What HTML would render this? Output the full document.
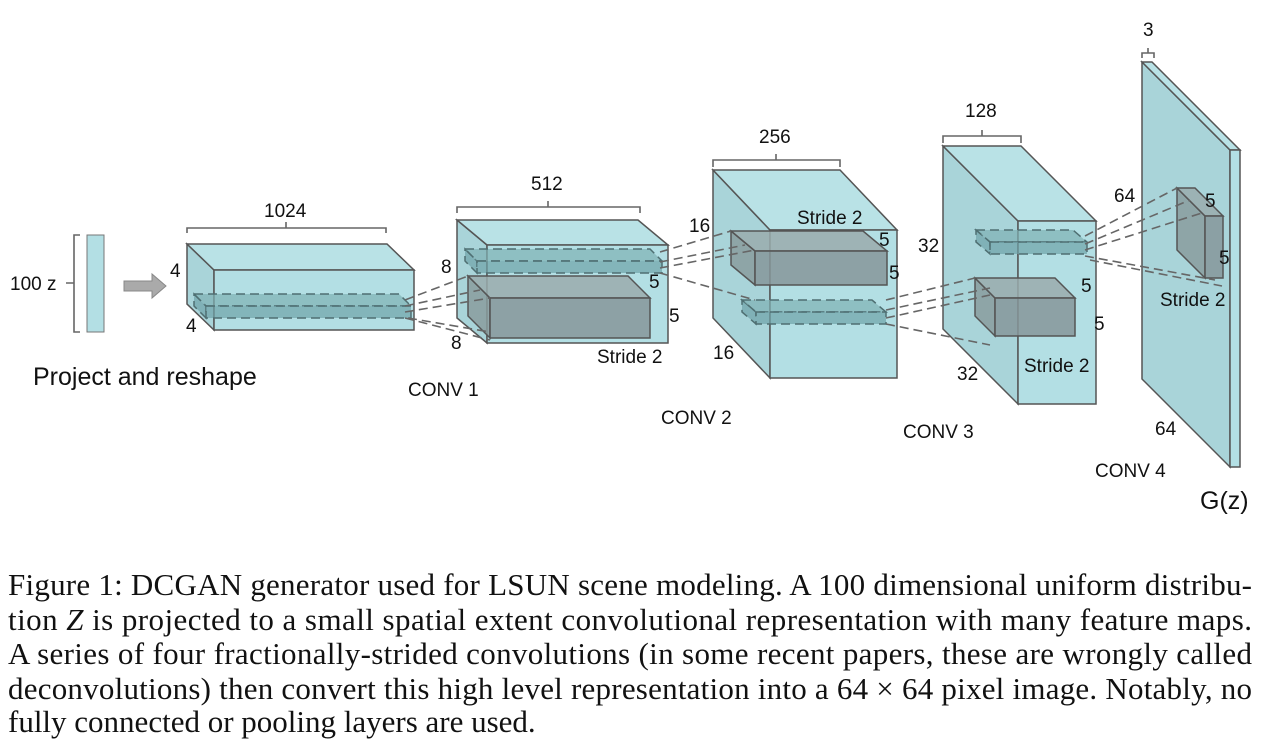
<!DOCTYPE html>
<html><head><meta charset="utf-8"><style>
html,body{margin:0;padding:0;background:#fff}
svg{display:block}
.l{font-family:"Liberation Sans",sans-serif;font-size:19px;fill:#111}
.c{font-family:"Liberation Serif",serif;font-size:31px;fill:#111}
</style></head><body>
<svg width="1262" height="743" viewBox="0 0 1262 743">
<g id="cubes"></g>
<g fill="none" stroke="#666" stroke-width="1.6">
<path d="M80,235 h-6 v97 h6 M74,283 h-8"/>
<path d="M187,233 v-5 h99 v-6 v6 h100 v5"/>
<path d="M457,213 v-6 h91 v-6 v6 h92 v6"/>
<path d="M713,167 v-7 h63 v-6 v6 h64 v7"/>
<path d="M943,143 v-7 h39 v-6 v6 h39 v7"/>
<path d="M1142,58 v-5 h6 v-5 v5 h6 v5"/>
</g>
<rect x="87" y="235" width="17" height="97" fill="#b3dfe4" stroke="#777"/>
<path d="M124,281 h28 v-7 l14,12 l-14,12 v-7 h-28 z" fill="#aaa" stroke="#888"/>
<g fill="none" stroke="#666" stroke-width="1.6" stroke-dasharray="9,5">
<path d="M405,300 L468,276 M405,306 L480,290 M405,312 L490,298 M405,318 L490,340"/>
<path d="M408,318 L490,332"/>
<path d="M660,252 L731,231 M660,262 L745,245 M660,268 L755,250 M660,273 L755,300"/>
<path d="M886,300 L975,278 M886,310 L990,288 M886,318 L990,295 M886,324 L990,345"/>
<path d="M1085,236 L1177,188 M1085,244 L1190,200 M1085,250 L1205,212 M1085,256 L1215,280"/>
<path d="M1090,260 L1222,286"/>
</g>
<g class="l">
<text x="10" y="290">100 z</text>
<text x="264" y="217">1024</text>
<text x="531" y="190">512</text>
<text x="759" y="143">256</text>
<text x="965" y="117">128</text>
<text x="1143" y="36">3</text>
<text x="170" y="277">4</text><text x="186" y="332">4</text>
<text x="441" y="273">8</text><text x="451" y="349">8</text>
<text x="649" y="288">5</text><text x="669" y="322">5</text>
<text x="597" y="363">Stride 2</text>
<text x="689" y="232">16</text><text x="713" y="359">16</text>
<text x="797" y="224">Stride 2</text>
<text x="879" y="246">5</text><text x="889" y="279">5</text>
<text x="918" y="252">32</text><text x="957" y="380">32</text>
<text x="1081" y="292">5</text><text x="1094" y="330">5</text>
<text x="1024" y="372">Stride 2</text>
<text x="1114" y="202">64</text>
<text x="1205" y="207">5</text><text x="1219" y="264">5</text>
<text x="1160" y="306">Stride 2</text>
<text x="1155" y="435">64</text>
<text x="408" y="396">CONV 1</text>
<text x="661" y="424">CONV 2</text>
<text x="903" y="438">CONV 3</text>
<text x="1095" y="477">CONV 4</text>
<text x="1200" y="509" style="font-size:25px">G(z)</text>
<text x="33" y="385" style="font-size:25px">Project and reshape</text>
</g>
<g class="c">
<text x="8" y="595" textLength="1244" lengthAdjust="spacing">Figure 1: DCGAN generator used for LSUN scene modeling. A 100 dimensional uniform distribu-</text>
<text x="8" y="630" textLength="1244" lengthAdjust="spacing">tion <tspan font-style="italic">Z</tspan> is projected to a small spatial extent convolutional representation with many feature maps.</text>
<text x="8" y="664" textLength="1244" lengthAdjust="spacing">A series of four fractionally-strided convolutions (in some recent papers, these are wrongly called</text>
<text x="8" y="699" textLength="1244" lengthAdjust="spacing">deconvolutions) then convert this high level representation into a 64 × 64 pixel image. Notably, no</text>
<text x="8" y="732">fully connected or pooling layers are used.</text>
</g>
</svg>
<script>
const NS='http://www.w3.org/2000/svg';
const g=document.getElementById('cubes');
function poly(pts,fill,name,dash,op){
  const p=document.createElementNS(NS,'polygon');
  p.setAttribute('points',pts.map(a=>a.join(',')).join(' '));
  p.setAttribute('fill',fill);
  p.setAttribute('stroke',dash?'#4f6f72':'#555');
  p.setAttribute('stroke-width','1.5');
  if(dash)p.setAttribute('stroke-dasharray','9,5');
  if(op)p.setAttribute('fill-opacity',op);
  
  
  g.appendChild(p);
}
function cube(bx,by,w,h,dx,dy,name,cols,dash,op){
  poly([[bx,by],[bx+dx,by+dy],[bx+dx,by+dy+h],[bx,by+h]],cols[0],name+'-side',dash,op);
  poly([[bx,by],[bx+w,by],[bx+w+dx,by+dy],[bx+dx,by+dy]],cols[1],name+'-top',dash,op);
  poly([[bx+dx,by+dy],[bx+w+dx,by+dy],[bx+w+dx,by+dy+h],[bx+dx,by+dy+h]],cols[2],name+'-front',dash,op);
}
const C=['#a9d4d9','#b9e2e6','#b3dfe4'];
const G=['#8a9c9e','#9aabad','#86979a'];
const D=['#6fa3a8','#7fb0b4','#6fa3a8'];
cube(187,244,200,60,27,26,'block-1024',C,false,1);
cube(194,294,205,12,12,12,'kernel-slab-1',D,true,0.7);
cube(457,220,181,98,30,25,'block-512',C,false,1);
cube(465,249,185,12,12,12,'kernel-slab-2',D,true,0.7);
cube(468,276,160,40,22,22,'gray-box-2',G,false,0.85);
cube(713,170,127,148,57,60,'block-256',C,false,1);
cube(731,231,132,34,24,20,'gray-box-3',G,false,0.85);
cube(742,300,130,12,14,12,'kernel-slab-3',D,true,0.7);
cube(943,146,78,183,75,75,'block-128',C,false,1);
cube(976,230,97,12,14,12,'kernel-slab-4',D,true,0.7);
cube(975,278,80,38,20,20,'gray-box-4',G,false,0.85);
cube(1142,62,10,317,88,88,'output-image',C,false,1);
cube(1177,188,18,62,28,28,'gray-box-5',G,false,0.85);
</script>
</body></html>
